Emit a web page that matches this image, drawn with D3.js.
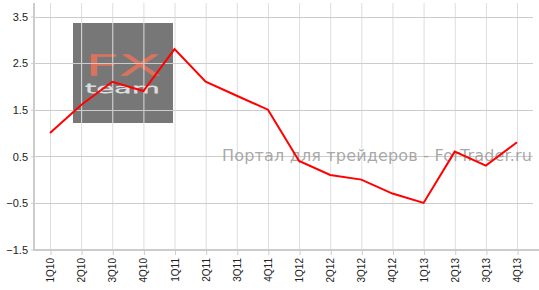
<!DOCTYPE html>
<html>
<head>
<meta charset="utf-8">
<script src="https://d3js.org/d3.v7.min.js"></script>
<style>
  body { margin: 0; background: #fff; }
  svg { display: block; }
</style>
</head>
<body>
<script>
var quarters = ["1Q10","2Q10","3Q10","4Q10","1Q11","2Q11","3Q11","4Q11",
                "1Q12","2Q12","3Q12","4Q12","1Q13","2Q13","3Q13","4Q13"];
var values = [1.0, 1.6, 2.1, 1.9, 2.8, 2.1, 1.8, 1.5,
              0.4, 0.1, 0.0, -0.3, -0.5, 0.6, 0.3, 0.8];
var yTicks = [-1.5, -0.5, 0.5, 1.5, 2.5, 3.5];

var W = 539, H = 290;
var svg = d3.select("body").append("svg").attr("width", W).attr("height", H);

var x = d3.scalePoint().domain(quarters).range([50, 517]);
var y = d3.scaleLinear().domain([-1.5, 3.5]).range([249.5, 16.5]);

// logo block
var logo = svg.append("g");
logo.append("rect").attr("x", 73).attr("y", 23).attr("width", 100).attr("height", 100)
  .attr("fill", "#777");
logo.append("text").attr("x", 85).attr("y", 75)
  .attr("font-family", "DejaVu Sans").attr("font-size", 26).attr("font-weight", 200)
  .attr("fill", "none").attr("stroke", "#d9735e").attr("stroke-width", 1.4)
  .attr("textLength", 75).attr("lengthAdjust", "spacingAndGlyphs").text("FX");
logo.append("text").attr("x", 85).attr("y", 93)
  .attr("font-family", "DejaVu Sans").attr("font-size", 12).attr("font-weight", 200)
  .attr("fill", "none").attr("stroke", "#ddd").attr("stroke-width", 0.8)
  .attr("textLength", 75).attr("lengthAdjust", "spacingAndGlyphs").text("team");

// grid
svg.append("g").selectAll("line").data(quarters).join("line")
  .attr("x1", d => x(d) + 0.5).attr("x2", d => x(d) + 0.5)
  .attr("y1", 3).attr("y2", 250)
  .attr("stroke", "#ddd").attr("stroke-width", 1);
svg.append("g").selectAll("line").data(yTicks).join("line")
  .attr("x1", 35).attr("x2", 533)
  .attr("y1", d => Math.round(y(d)) + 0.5).attr("y2", d => Math.round(y(d)) + 0.5)
  .attr("stroke", "#ccc").attr("stroke-width", 1);

// axes
var yAxis = svg.append("g").attr("transform", "translate(35,0)")
  .call(d3.axisLeft(y).tickValues(yTicks).tickSize(4).tickFormat(d3.format(".1f")));
yAxis.select(".domain").remove();
yAxis.selectAll("line").attr("stroke", "#ccc");
yAxis.selectAll("text").attr("font-family", "Liberation Sans, Arial")
  .attr("font-size", 11).attr("fill", "#222").attr("x", -7).attr("dy", "0.35em");
svg.append("line").attr("x1", 34).attr("x2", 34).attr("y1", 3).attr("y2", 251)
  .attr("stroke", "#ccc").attr("stroke-width", 2);

var xAxis = svg.append("g").attr("transform", "translate(0,250)")
  .call(d3.axisBottom(x).tickSize(5));
xAxis.select(".domain").remove();
xAxis.selectAll("line").attr("stroke", "#ccc").attr("transform", "translate(0.5,0)");
xAxis.selectAll("text")
  .attr("font-family", "Liberation Sans, Arial").attr("font-size", 10).attr("fill", "#222")
  .attr("transform", "rotate(-90)").attr("text-anchor", "end")
  .attr("x", -8).attr("y", 0).attr("dx", 0).attr("dy", "0.35em");
svg.append("line").attr("x1", 33).attr("x2", 539).attr("y1", 250).attr("y2", 250)
  .attr("stroke", "#ccc").attr("stroke-width", 2);

// watermark
svg.append("text").attr("x", 222).attr("y", 161)
  .attr("font-family", "DejaVu Sans").attr("font-size", 16)
  .attr("fill", "#999").attr("fill-opacity", 0.85)
  .attr("textLength", 310).text("Портал для трейдеров - ForTrader.ru");

// series
svg.append("path").datum(values)
  .attr("fill", "none").attr("stroke", "#f00").attr("stroke-width", 2)
  .attr("d", d3.line().x((d, i) => x(quarters[i])).y(d => y(d)));
</script>
</body>
</html>
